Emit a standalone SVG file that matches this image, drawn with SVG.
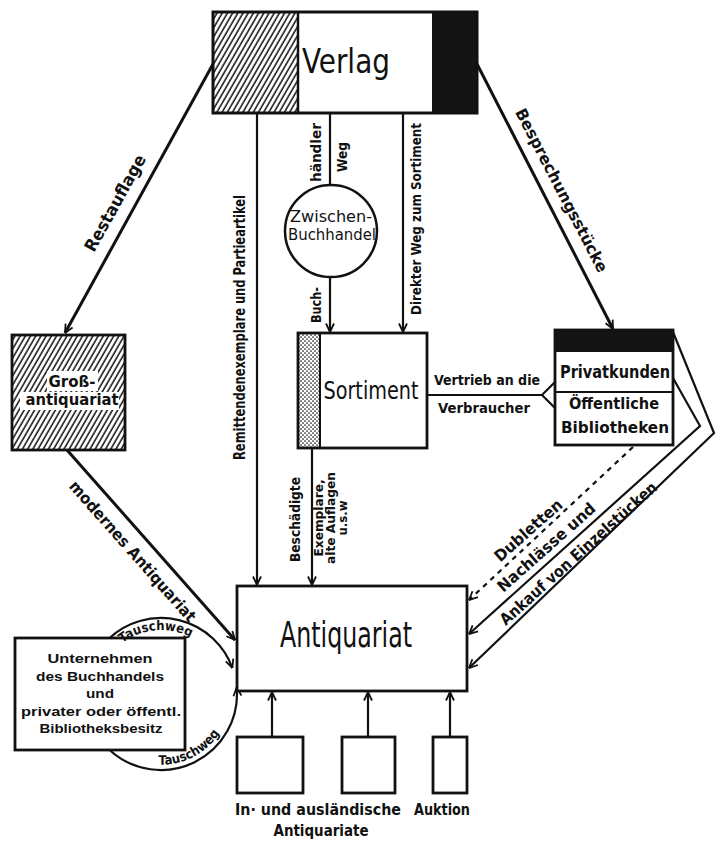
<svg xmlns="http://www.w3.org/2000/svg" width="717" height="841" viewBox="0 0 717 841">
<defs>
<pattern id="hatch" patternUnits="userSpaceOnUse" width="4.5" height="10" patternTransform="rotate(30)">
<rect width="4.5" height="10" fill="#fff"/>
<line x1="1" y1="0" x2="1" y2="10" stroke="#111" stroke-width="1.5"/>
</pattern>
<pattern id="dots" patternUnits="userSpaceOnUse" width="4" height="4">
<rect width="4" height="4" fill="#fff"/>
<circle cx="1" cy="1" r="0.85" fill="#111"/>
<circle cx="3" cy="3" r="0.85" fill="#111"/>
</pattern>
<marker id="arr" viewBox="0 0 10 10" refX="9.5" refY="5" markerWidth="10" markerHeight="10" markerUnits="userSpaceOnUse" orient="auto">
<path d="M1,1 L9.5,5 L1,9" fill="none" stroke="#111" stroke-width="1.8" stroke-dasharray="none"/>
</marker>
<style>
.ln{fill:none;stroke:#111;stroke-width:2.2}
.lnb{fill:none;stroke:#111;stroke-width:3}
.dash{fill:none;stroke:#111;stroke-width:2.2;stroke-dasharray:5 5}
.bx{fill:#fff;stroke:#111;stroke-width:2.8}
.t{font-family:"DejaVu Sans Condensed","Liberation Sans Narrow","Liberation Sans",sans-serif;fill:#111;text-anchor:middle}
.lb{font-family:"DejaVu Sans Condensed","Liberation Sans Narrow","Liberation Sans",sans-serif;font-weight:bold;fill:#111;text-anchor:middle}
.ub{font-family:"Liberation Sans",Arial,sans-serif;font-weight:bold;fill:#111;text-anchor:middle;font-size:13px}
</style>
</defs>
<rect width="717" height="841" fill="#fff"/>

<g id="connectors">
<line class="lnb" x1="213" y1="64" x2="65" y2="333" marker-end="url(#arr)"/>
<line class="lnb" x1="477" y1="64" x2="613" y2="329" marker-end="url(#arr)"/>
<line class="ln" x1="257" y1="113" x2="257" y2="585" marker-end="url(#arr)"/>
<line class="ln" x1="330" y1="113" x2="330" y2="185"/>
<line class="ln" x1="330" y1="277" x2="330" y2="332" marker-end="url(#arr)"/>
<line class="ln" x1="403" y1="113" x2="403" y2="332" marker-end="url(#arr)"/>
<line class="ln" x1="312" y1="448" x2="312" y2="585" marker-end="url(#arr)"/>
<polyline class="ln" points="427,395 542,395 555,382"/>
<line class="ln" x1="542" y1="395" x2="555" y2="408"/>
<line class="dash" x1="633" y1="447" x2="469" y2="600" marker-end="url(#arr)"/>
<polyline class="ln" points="673,378 700,426 469,634" marker-end="url(#arr)"/>
<polyline class="ln" points="673,332 714,433 469,668" marker-end="url(#arr)"/>
<line class="lnb" x1="67" y1="450" x2="235" y2="640" marker-end="url(#arr)"/>
<path class="ln" d="M109.6,638 A76,76 0 0 1 232.4,668" marker-end="url(#arr)"/>
<path class="ln" d="M109.6,750 A76,76 0 0 0 236.7,687.4" marker-end="url(#arr)"/>
<line class="ln" x1="272" y1="737" x2="272" y2="692" marker-end="url(#arr)"/>
<line class="ln" x1="368" y1="737" x2="368" y2="692" marker-end="url(#arr)"/>
<line class="ln" x1="450" y1="737" x2="450" y2="692" marker-end="url(#arr)"/>
</g>

<g id="verlag">
<rect x="213" y="12" width="85" height="101" fill="url(#hatch)"/>
<rect x="432" y="12" width="45" height="101" fill="#141414"/>
<rect x="213" y="12" width="264" height="101" fill="none" stroke="#111" stroke-width="3"/>
<line x1="298" y1="12" x2="298" y2="113" stroke="#111" stroke-width="2.5"/>
<text class="t" x="346" y="73" font-size="34" textLength="88" lengthAdjust="spacingAndGlyphs">Verlag</text>
</g>

<g id="zwischenbuchhandel">
<circle cx="331" cy="231" r="46" fill="#fff" stroke="#111" stroke-width="2.5"/>
<text class="t" x="331" y="222" font-size="16" textLength="82" lengthAdjust="spacingAndGlyphs">Zwischen-</text>
<text class="t" x="332" y="240" font-size="16" textLength="88" lengthAdjust="spacingAndGlyphs">Buchhandel</text>
</g>

<g id="sortiment">
<rect x="298" y="333" width="22" height="115" fill="url(#dots)"/>
<rect x="298" y="333" width="129" height="115" fill="none" stroke="#111" stroke-width="2.8"/>
<line x1="320" y1="333" x2="320" y2="448" stroke="#111" stroke-width="2"/>
<text class="t" x="371" y="399" font-size="25" textLength="95" lengthAdjust="spacingAndGlyphs">Sortiment</text>
</g>

<g id="grossantiquariat">
<rect x="12" y="335" width="113" height="115" fill="url(#hatch)" stroke="#111" stroke-width="2.8"/>
<rect x="47" y="371" width="51" height="20" fill="#fff"/>
<rect x="20" y="392" width="99" height="18" fill="#fff"/>
<text class="lb" x="72" y="387" font-size="16" textLength="47" lengthAdjust="spacingAndGlyphs">Groß-</text>
<text class="lb" x="72" y="405" font-size="16" textLength="93" lengthAdjust="spacingAndGlyphs">antiquariat</text>
</g>

<g id="privatkunden">
<rect x="555" y="330" width="118" height="115" fill="#fff" stroke="#111" stroke-width="2.8"/>
<rect x="555" y="330" width="118" height="22" fill="#141414"/>
<line x1="555" y1="392" x2="673" y2="392" stroke="#111" stroke-width="2.2"/>
<text class="lb" x="615" y="378" font-size="17" textLength="110" lengthAdjust="spacingAndGlyphs">Privatkunden</text>
<text class="lb" x="614" y="409" font-size="16" textLength="90" lengthAdjust="spacingAndGlyphs">Öffentliche</text>
<text class="lb" x="615" y="433" font-size="16" textLength="108" lengthAdjust="spacingAndGlyphs">Bibliotheken</text>
</g>

<g id="antiquariat">
<rect x="237" y="586" width="230" height="105" class="bx"/>
<text class="t" x="346" y="647" font-size="36" textLength="132" lengthAdjust="spacingAndGlyphs">Antiquariat</text>
</g>

<g id="unternehmen">
<rect x="15" y="638" width="170" height="112" class="bx"/>
<text class="ub" x="100" y="663" textLength="105" lengthAdjust="spacingAndGlyphs">Unternehmen</text>
<text class="ub" x="100" y="681" textLength="128" lengthAdjust="spacingAndGlyphs">des Buchhandels</text>
<text class="ub" x="100" y="698" textLength="28" lengthAdjust="spacingAndGlyphs">und</text>
<text class="ub" x="101" y="716" textLength="160" lengthAdjust="spacingAndGlyphs">privater oder öffentl.</text>
<text class="ub" x="101" y="733" textLength="123" lengthAdjust="spacingAndGlyphs">Bibliotheksbesitz</text>
</g>

<g id="tauschweg-labels">
<path id="tp1" d="M105.6,662 A64,64 0 0 1 216.4,662" fill="none"/>
<path id="tp2" d="M115,747.6 A70,70 0 0 0 231,694" fill="none"/>
<text class="lb" font-size="13"><textPath href="#tp1" startOffset="46%">Tauschweg</textPath></text>
<text class="lb" font-size="13"><textPath href="#tp2" startOffset="52%">Tauschweg</textPath></text>
</g>

<g id="box-inland">
<rect x="237" y="737" width="66" height="56" class="bx"/>
</g>
<g id="box-ausland">
<rect x="342" y="737" width="53" height="56" class="bx"/>
</g>
<g id="box-auktion">
<rect x="433" y="737" width="34" height="56" class="bx"/>
</g>

<g id="labels">
<text class="lb" x="318" y="815" font-size="15" textLength="166" lengthAdjust="spacingAndGlyphs">In· und ausländische</text>
<text class="lb" x="321" y="836" font-size="15" textLength="95" lengthAdjust="spacingAndGlyphs">Antiquariate</text>
<text class="lb" x="442" y="815" font-size="15" textLength="56" lengthAdjust="spacingAndGlyphs">Auktion</text>

<text class="lb" x="487" y="385" font-size="14" textLength="106" lengthAdjust="spacingAndGlyphs">Vertrieb an die</text>
<text class="lb" x="484" y="413" font-size="14" textLength="92" lengthAdjust="spacingAndGlyphs">Verbraucher</text>

<text class="lb" transform="translate(115,203) rotate(-60.9)" y="6" font-size="17" textLength="108" lengthAdjust="spacingAndGlyphs">Restauflage</text>
<text class="lb" transform="translate(562,190) rotate(62.6)" y="6" font-size="16" textLength="182" lengthAdjust="spacingAndGlyphs">Besprechungsstücke</text>
<text class="lb" transform="translate(133,551) rotate(48.5)" y="6" font-size="16" textLength="182" lengthAdjust="spacingAndGlyphs">modernes Antiquariat</text>

<text class="lb" transform="translate(245,327.5) rotate(-90)" font-size="15" textLength="265" lengthAdjust="spacingAndGlyphs">Remittendenexemplare und Partieartikel</text>
<text class="lb" transform="translate(321,152.5) rotate(-90)" font-size="14" textLength="59" lengthAdjust="spacingAndGlyphs">händler</text>
<text class="lb" transform="translate(347,157) rotate(-90)" font-size="14" textLength="30" lengthAdjust="spacingAndGlyphs">Weg</text>
<text class="lb" transform="translate(321,305) rotate(-90)" font-size="14" textLength="36" lengthAdjust="spacingAndGlyphs">Buch-</text>
<text class="lb" transform="translate(421,219) rotate(-90)" font-size="14" textLength="192" lengthAdjust="spacingAndGlyphs">Direkter Weg zum Sortiment</text>
<text class="lb" transform="translate(300,519.5) rotate(-90)" font-size="14" textLength="85" lengthAdjust="spacingAndGlyphs">Beschädigte</text>
<text class="lb" transform="translate(323,518) rotate(-90)" font-size="12" textLength="77" lengthAdjust="spacingAndGlyphs">Exemplare,</text>
<text class="lb" transform="translate(335,518) rotate(-90)" font-size="12" textLength="92" lengthAdjust="spacingAndGlyphs">alte Auflagen</text>
<text class="lb" transform="translate(347,518) rotate(-90)" font-size="12" textLength="35" lengthAdjust="spacingAndGlyphs">u.s.w</text>

<text class="lb" transform="translate(528,530) rotate(-41.5)" y="6" font-size="16" textLength="85" lengthAdjust="spacingAndGlyphs">Dubletten</text>
<text class="lb" transform="translate(546,547) rotate(-41.5)" y="6" font-size="16" textLength="125" lengthAdjust="spacingAndGlyphs">Nachlässe und</text>
<text class="lb" transform="translate(578,553) rotate(-42)" y="6" font-size="16" textLength="205" lengthAdjust="spacingAndGlyphs">Ankauf von Einzelstücken</text>
</g>
</svg>
